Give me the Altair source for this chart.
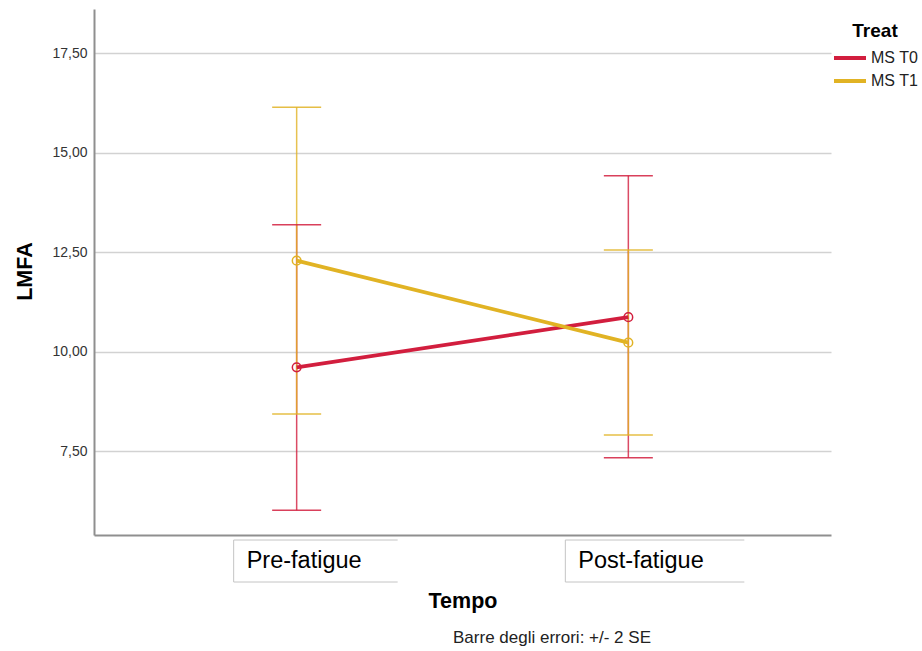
import altair as alt
import pandas as pd

tempo = ["Pre-fatigue", "Post-fatigue"]
treat = ["MS T0", "MS T1"]
mean_t0 = [9.61, 10.87]
lo_t0 = [6.02, 7.34]
hi_t0 = [13.19, 14.42]
mean_t1 = [12.29, 10.23]
lo_t1 = [8.44, 7.91]
hi_t1 = [16.14, 12.56]
y_ticks = [7.5, 10.0, 12.5, 15.0, 17.5]
note = ["Barre degli errori: +/- 2 SE"]
colors = ["#D21E3E", "#E1B324"]

rows = []
for i, t in enumerate(tempo):
    rows.append(dict(Tempo=t, Treat=treat[0], mean=mean_t0[i], lo=lo_t0[i], hi=hi_t0[i]))
    rows.append(dict(Tempo=t, Treat=treat[1], mean=mean_t1[i], lo=lo_t1[i], hi=hi_t1[i]))
df = pd.DataFrame(rows)
lab = pd.DataFrame({"Tempo": tempo})
note_df = pd.DataFrame({"note": note})

FONT = "Liberation Sans"
W, H = 737, 526

xs = alt.Scale(type="point", domain=tempo, padding=0.611)
ys = alt.Scale(domain=[5.40, 18.61], nice=False, zero=False)
cs = alt.Scale(domain=treat, range=colors)

x_axis = alt.Axis(labels=False, ticks=False, grid=False, domainColor="#8f8f8f", domainWidth=2,
                  title="Tempo", titleFont=FONT, titleFontSize=21.5, titleFontWeight="bold",
                  titleColor="#000000", titleY=72, titleBaseline="alphabetic")
y_axis = alt.Axis(values=y_ticks, labelExpr="replace(format(datum.value, '.2f'), '.', ',')",
                  ticks=False, grid=True, gridColor="#d2d2d2", gridWidth=1.5,
                  domainColor="#8f8f8f", domainWidth=2, labelFont=FONT, labelFontSize=14,
                  labelColor="#333333", labelPadding=7, title="LMFA", titleFont=FONT,
                  titleFontSize=21.5, titleFontWeight="bold", titleColor="#000000",
                  titleX=-63, titleY=262, titleBaseline="alphabetic", titleAngle=270)

legend = alt.Legend(
    orient="none", legendX=738, legendY=13, title="Treat", titleFont=FONT,
    titleFontSize=19, titleFontWeight="bold", titleColor="#000000", titleAnchor="middle",
    titlePadding=7, symbolType="stroke", symbolSize=1024, symbolStrokeWidth=4,
    symbolOpacity=1, labelFont=FONT, labelFontSize=16, labelColor="#222222", labelOffset=3,
    clipHeight=20, rowPadding=3)
C = alt.Color("Treat:N", scale=cs, legend=legend)

base = alt.Chart(df)
X = alt.X("Tempo:N", scale=xs, axis=x_axis)

bars = base.mark_rule(strokeWidth=1.5, opacity=0.8).encode(
    x=X, y=alt.Y("lo:Q", scale=ys, axis=y_axis), y2="hi:Q", color=C)
cap_lo = base.mark_tick(orient="horizontal", size=49, thickness=1.5, opacity=0.85).encode(
    x=X, y=alt.Y("lo:Q", scale=ys), color=C)
cap_hi = base.mark_tick(orient="horizontal", size=49, thickness=1.5, opacity=0.85).encode(
    x=X, y=alt.Y("hi:Q", scale=ys), color=C)
lines = base.mark_line(strokeWidth=3.8).encode(
    x=X, y=alt.Y("mean:Q", scale=ys), color=C)
pts = base.mark_point(filled=False, size=75, strokeWidth=1.5, opacity=1).encode(
    x=X, y=alt.Y("mean:Q", scale=ys), color=C)

lb = alt.Chart(lab)
labels = lb.mark_text(align="left", baseline="middle", dx=-50, font=FONT, fontSize=23.5,
                      color="#000000").encode(x=alt.X("Tempo:N", scale=xs), y=alt.value(552), text="Tempo:N")
box_style = dict(color="#c4c4c4", strokeWidth=1)
box_top_pre = lb.transform_filter(alt.datum.Tempo == tempo[0]).mark_rule(xOffset=-63, x2Offset=101, **box_style).encode(
    x=alt.X("Tempo:N", scale=xs), x2="Tempo:N", y=alt.value(531))
box_bot_pre = lb.transform_filter(alt.datum.Tempo == tempo[0]).mark_rule(xOffset=-63, x2Offset=101, **box_style).encode(
    x=alt.X("Tempo:N", scale=xs), x2="Tempo:N", y=alt.value(573))
box_top_post = lb.transform_filter(alt.datum.Tempo == tempo[1]).mark_rule(xOffset=-63, x2Offset=116, **box_style).encode(
    x=alt.X("Tempo:N", scale=xs), x2="Tempo:N", y=alt.value(531))
box_bot_post = lb.transform_filter(alt.datum.Tempo == tempo[1]).mark_rule(xOffset=-63, x2Offset=116, **box_style).encode(
    x=alt.X("Tempo:N", scale=xs), x2="Tempo:N", y=alt.value(573))
box_left = lb.mark_rule(xOffset=-63, **box_style).encode(
    x=alt.X("Tempo:N", scale=xs), y=alt.value(531), y2=alt.value(573))

footnote = alt.Chart(note_df).mark_text(align="center", baseline="alphabetic", font=FONT,
                                        fontSize=17, color="#222222").encode(
    x=alt.value(458), y=alt.value(634), text="note:N")

chart = alt.layer(bars, cap_lo, cap_hi, lines, pts, labels, box_top_pre, box_bot_pre,
                  box_top_post, box_bot_post, box_left, footnote).properties(
    width=W, height=H,
    autosize=alt.AutoSizeParams(type="none"),
    padding={"left": 94, "top": 9, "right": 91, "bottom": 116},
    background="#ffffff",
).configure_view(strokeWidth=0)

chart.save("out.html", embed_options={"renderer": "svg", "actions": False})
